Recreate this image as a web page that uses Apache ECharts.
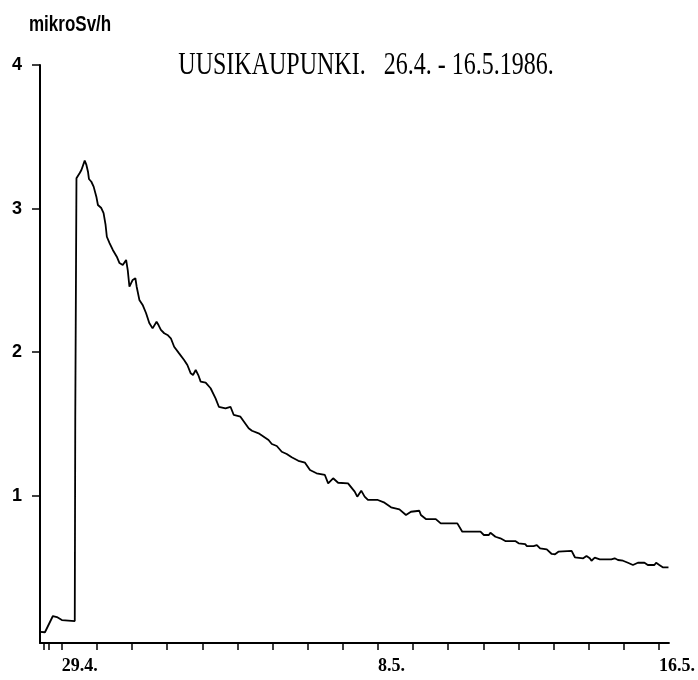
<!DOCTYPE html>
<html>
<head>
<meta charset="utf-8">
<script src="https://cdn.jsdelivr.net/npm/echarts@6/dist/echarts.min.js"></script>
<style>html,body{margin:0;padding:0;background:#fff}#c{width:698px;height:680px}</style>
</head>
<body>
<div id="c"></div>
<script>
// x: days since 29.4.1986 00:00, y: mikroSv/h
var days = [-0.622,-0.481,-0.255,-0.141,0,0.368,0.382,0.416,0.416,0.509,0.557,0.651,0.699,0.744,0.772,0.840,0.905,0.982,1.027,1.123,1.188,1.245,1.281,1.358,1.451,1.564,1.641,1.734,1.830,1.876,1.924,2.017,2.093,2.130,2.207,2.300,2.396,2.489,2.583,2.696,2.752,2.820,2.914,3.007,3.103,3.197,3.338,3.480,3.573,3.669,3.734,3.811,3.884,3.952,4.094,4.235,4.376,4.470,4.659,4.801,4.846,4.894,5.084,5.318,5.412,5.601,5.884,5.977,6.119,6.260,6.402,6.543,6.733,6.922,6.967,7.064,7.250,7.488,7.581,7.723,7.864,8.147,8.337,8.410,8.523,8.620,8.713,8.996,9.044,9.186,9.372,9.610,9.797,9.938,10.176,10.221,10.363,10.646,10.786,11.259,11.400,11.918,12.014,12.156,12.201,12.343,12.484,12.625,12.908,13.004,13.191,13.239,13.428,13.522,13.615,13.805,13.946,14.040,14.136,14.512,14.606,14.843,14.936,15.030,15.078,15.171,15.313,15.644,15.737,15.833,15.975,16.116,16.258,16.399,16.586,16.682,16.869,16.917,17.010,17.106,17.270];
var doseRate = [0.052,0.050,0.163,0.156,0.135,0.128,1.542,1.542,3.211,3.248,3.269,3.334,3.304,3.257,3.206,3.187,3.153,3.083,3.025,3.004,2.969,2.886,2.804,2.760,2.712,2.665,2.621,2.607,2.642,2.572,2.456,2.503,2.515,2.456,2.364,2.329,2.273,2.203,2.166,2.212,2.189,2.155,2.132,2.120,2.097,2.038,1.992,1.946,1.911,1.853,1.841,1.876,1.841,1.795,1.788,1.749,1.679,1.620,1.609,1.620,1.632,1.563,1.551,1.470,1.453,1.435,1.389,1.361,1.347,1.307,1.291,1.268,1.244,1.231,1.237,1.180,1.157,1.145,1.087,1.122,1.091,1.087,1.029,0.994,1.036,0.994,0.971,0.971,0.983,0.952,0.920,0.906,0.866,0.889,0.896,0.866,0.838,0.838,0.808,0.808,0.750,0.750,0.727,0.727,0.743,0.715,0.704,0.685,0.685,0.669,0.664,0.650,0.650,0.657,0.634,0.627,0.595,0.593,0.611,0.616,0.572,0.565,0.581,0.565,0.548,0.569,0.558,0.558,0.565,0.553,0.548,0.534,0.518,0.534,0.534,0.518,0.518,0.534,0.518,0.502,0.502];

var xTickDays = [-0.509,-0.368,0,1,2,3,4,5,6,7,8,9,10,11,12,13,14,15,16,17];
var xLabelDays = [0, 9, 17];
var xLabelTexts = ['29.4.', '8.5.', '16.5.'];
var yTicks = [1, 2, 3, 4];
var titleText = 'UUSIKAUPUNKI.   26.4. - 16.5.1986.';
var unitText = 'mikroSv/h';

var points = days.map(function (d, i) { return [d, doseRate[i]]; });

var chart = echarts.init(document.getElementById('c'), null, {renderer: 'canvas'});
chart.setOption({
  animation: false,
  backgroundColor: '#ffffff',
  grid: {left: 40, right: 25, top: 65, bottom: 37},
  xAxis: {
    type: 'value',
    min: -0.622,
    max: 17.283,
    axisLine: {show: true, onZero: false, lineStyle: {color: '#000', width: 2}},
    axisTick: {show: true, customValues: xTickDays, length: 7, lineStyle: {color: '#000', width: 1.5}},
    axisLabel: {
      customValues: xLabelDays,
      align: 'left',
      margin: 14,
      color: '#000',
      fontFamily: 'Liberation Serif',
      fontWeight: 'bold',
      fontSize: 18,
      formatter: function (v) {
        var i = xLabelDays.indexOf(Math.round(v));
        return i >= 0 ? xLabelTexts[i] : '';
      }
    },
    splitLine: {show: false}
  },
  yAxis: {
    type: 'value',
    min: -0.025,
    max: 4,
    axisLine: {show: true, onZero: false, lineStyle: {color: '#000', width: 2}},
    axisTick: {show: true, customValues: yTicks, length: 8, lineStyle: {color: '#000', width: 1.5}},
    axisLabel: {
      customValues: yTicks,
      margin: 18,
      color: '#000',
      fontFamily: 'Liberation Sans',
      fontWeight: 'bold',
      fontSize: 18
    },
    splitLine: {show: false}
  },
  series: [{
    type: 'line',
    data: points,
    showSymbol: false,
    symbol: 'none',
    lineStyle: {color: '#000', width: 1.8},
    silent: true
  }],
  graphic: [
    {
      type: 'text',
      x: 366, y: 65.5,
      scaleY: 1.3,
      style: {
        text: titleText,
        x: 0, y: 0,
        align: 'center', verticalAlign: 'middle',
        textAlign: 'center', textVerticalAlign: 'middle',
        font: '24px "Liberation Serif"',
        fill: '#000'
      }
    },
    {
      type: 'text',
      x: 29, y: 25.3,
      scaleY: 1.3,
      style: {
        text: unitText,
        x: 0, y: 0,
        align: 'left', verticalAlign: 'middle',
        textAlign: 'left', textVerticalAlign: 'middle',
        font: 'bold 17px "Liberation Sans"',
        fill: '#000'
      }
    }
  ]
});
</script>
</body>
</html>
